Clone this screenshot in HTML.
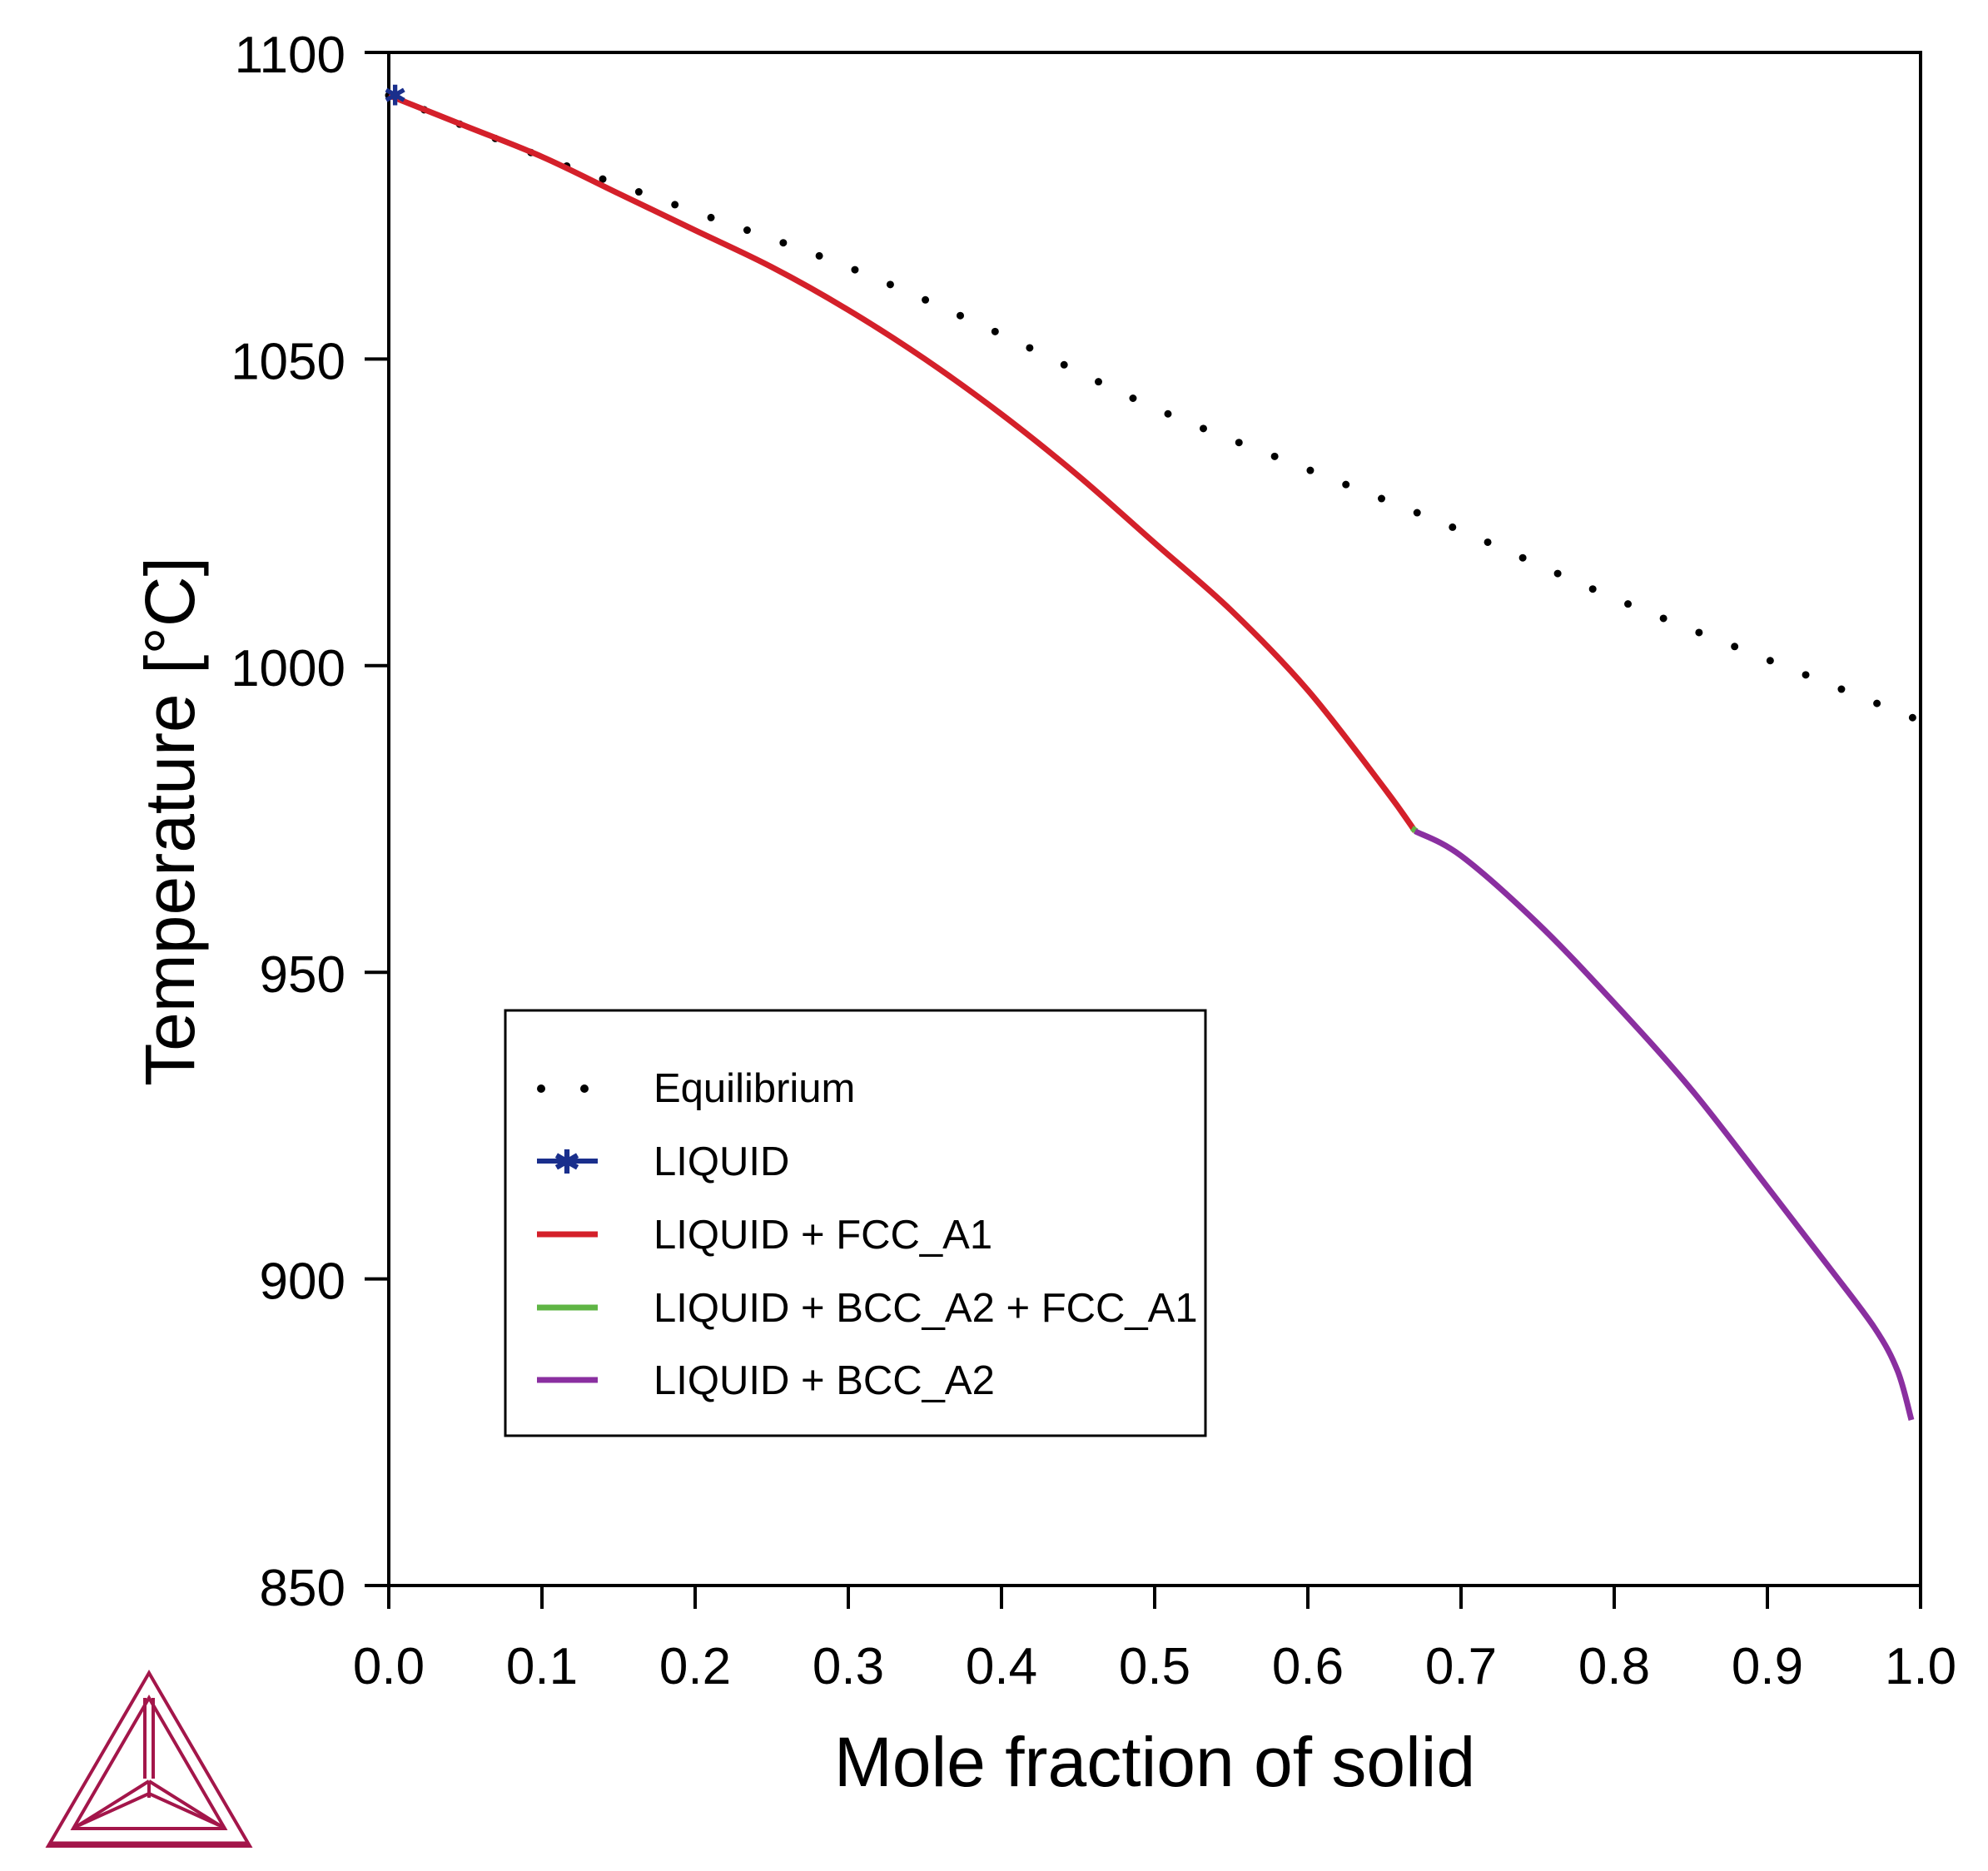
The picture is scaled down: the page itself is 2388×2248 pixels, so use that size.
<!DOCTYPE html>
<html><head><meta charset="utf-8"><style>
html,body{margin:0;padding:0;background:#fff;}
svg{display:block;font-family:"Liberation Sans",sans-serif;}
</style></head><body>
<svg id="chart" width="2388" height="2248" viewBox="0 0 2388 2248">
<g id="axes"></g>
<g id="series"></g>
<g id="legend">
 <rect x="607" y="1214" width="841" height="511" fill="#fff" stroke="#000" stroke-width="3"/>
 <g>
  <circle cx="650" cy="1308" r="5" fill="#000"/><circle cx="702" cy="1308" r="5" fill="#000"/>
  <text x="785" y="1324" font-size="49">Equilibrium</text></g>
 <g>
  <line x1="645" y1="1395" x2="718" y2="1395" stroke="#1a2f8c" stroke-width="6"/>
  <text x="681" y="1410" font-size="40" fill="#1a2f8c" text-anchor="middle">✱</text>
  <text x="785" y="1412" font-size="49">LIQUID</text></g>
 <g>
  <line x1="645" y1="1483" x2="718" y2="1483" stroke="#d4202a" stroke-width="7"/>
  <text x="785" y="1500" font-size="49">LIQUID + FCC_A1</text></g>
 <g>
  <line x1="645" y1="1571" x2="718" y2="1571" stroke="#5fb545" stroke-width="7"/>
  <text x="785" y="1588" font-size="49">LIQUID + BCC_A2 + FCC_A1</text></g>
 <g>
  <line x1="645" y1="1658" x2="718" y2="1658" stroke="#8a2fa0" stroke-width="7"/>
  <text x="785" y="1675" font-size="49">LIQUID + BCC_A2</text></g>
</g>
<g fill="none" stroke="#a3164a" stroke-width="4">
 <polygon points="179,2010 58,2218 300,2218"/>
 <polygon points="179,2040 88,2197 270,2197"/>
 <line x1="174" y1="2040" x2="174" y2="2137"/><line x1="184" y1="2040" x2="184" y2="2137"/>
 <line x1="179" y1="2140" x2="88" y2="2197"/><line x1="179" y1="2140" x2="270" y2="2197"/>
 <line x1="179" y1="2155" x2="95" y2="2193"/><line x1="179" y1="2155" x2="263" y2="2193"/>
 <line x1="179" y1="2140" x2="179" y2="2160"/>
 <line x1="60" y1="2216" x2="298" y2="2216" stroke-width="7"/>
</g>
</svg>
<script>
const xTicks=[0,0.1,0.2,0.3,0.4,0.5,0.6,0.7,0.8,0.9,1.0];
const xTickLabels=["0.0","0.1","0.2","0.3","0.4","0.5","0.6","0.7","0.8","0.9","1.0"];
const yTicks=[850,900,950,1000,1050,1100];
const yTickLabels=["850","900","950","1000","1050","1100"];
const eqX=[0,0.1,0.2,0.3,0.4,0.5,0.6,0.7,0.8,0.9,1.0];
const eqT=[1093,1083,1074,1065,1054,1042,1032,1022,1011,1001,991];
const fccX=[0,0.05,0.1,0.15,0.2,0.25,0.3,0.35,0.4,0.45,0.5,0.55,0.6,0.65,0.67];
const fccT=[1093,1088,1083,1077,1071,1065,1058,1050,1041,1031,1020,1009,996,980,973];
const bccFccX=[0.668,0.671];
const bccFccT=[973.5,973];
const bccX=[0.67,0.7,0.75,0.8,0.85,0.9,0.94,0.97,0.985,0.994];
const bccT=[973,969,958,945,931,915,902,892,885,877];
const liqX=[0.002];
const liqT=[1093];
const NS='http://www.w3.org/2000/svg';
const X0=467,X1=2307,Y0=1905,Y1=63;
function sx(v){return X0+(v-0)/(1-0)*(X1-X0);}
function sy(t){return Y0-(t-850)/(1100-850)*(Y0-Y1);}
function mk(tag,attrs,parent){const e=document.createElementNS(NS,tag);for(const k in attrs)e.setAttribute(k,attrs[k]);parent.appendChild(e);return e;}
function smooth(xs,ts){
 const p=xs.map((x,i)=>[sx(x),sy(ts[i])]);
 let d='M'+p[0][0].toFixed(1)+','+p[0][1].toFixed(1);
 for(let i=0;i<p.length-1;i++){
  const p0=p[Math.max(0,i-1)],p1=p[i],p2=p[i+1],p3=p[Math.min(p.length-1,i+2)];
  const c1=[p1[0]+(p2[0]-p0[0])/6,p1[1]+(p2[1]-p0[1])/6];
  const c2=[p2[0]-(p3[0]-p1[0])/6,p2[1]-(p3[1]-p1[1])/6];
  d+=' C'+c1[0].toFixed(1)+','+c1[1].toFixed(1)+' '+c2[0].toFixed(1)+','+c2[1].toFixed(1)+' '+p2[0].toFixed(1)+','+p2[1].toFixed(1);
 }
 return d;
}
const axes=document.getElementById('axes');
const frame=mk('rect',{x:X0,y:Y1,width:X1-X0,height:Y0-Y1,fill:'none',stroke:'#000','stroke-width':4},axes);


xTicks.forEach((v,i)=>{
 const l=mk('line',{x1:sx(v),y1:Y0,x2:sx(v),y2:Y0+28,stroke:'#000','stroke-width':4},axes);
 
 
 const t=mk('text',{x:sx(v),y:2023,'font-size':62,'text-anchor':'middle'},axes);
 t.textContent=xTickLabels[i];
 
 
});
yTicks.forEach((v,i)=>{
 const l=mk('line',{x1:X0-29,y1:sy(v),x2:X0,y2:sy(v),stroke:'#000','stroke-width':4},axes);
 
 
 const t=mk('text',{x:415,y:sy(v)+24,'font-size':62,'text-anchor':'end'},axes);
 t.textContent=yTickLabels[i];
 
 
});
const xt=mk('text',{x:1387,y:2146,'font-size':84,'text-anchor':'middle'},axes);
xt.textContent='Mole fraction of solid';


const yt=mk('text',{x:0,y:0,'font-size':84,'text-anchor':'middle',transform:'translate(233,987) rotate(-90)'},axes);
yt.textContent='Temperature [°C]';


const ser=document.getElementById('series');
const eq=mk('path',{d:smooth(eqX,eqT),fill:'none',stroke:'#000','stroke-width':9,'stroke-linecap':'round','stroke-dasharray':'0 46'},ser);


const fcc=mk('path',{d:smooth(fccX,fccT),fill:'none',stroke:'#d4202a','stroke-width':7},ser);


const bf=mk('path',{d:smooth(bccFccX,bccFccT),fill:'none',stroke:'#5fb545','stroke-width':7},ser);


const bcc=mk('path',{d:smooth(bccX,bccT),fill:'none',stroke:'#8a2fa0','stroke-width':7},ser);


liqX.forEach((x,i)=>{
 const m=mk('text',{x:sx(x)+4,y:sy(liqT[i])+12,'font-size':34,fill:'#1a2f8c','text-anchor':'middle'},ser);
 m.textContent='✱';
 
 
});
</script>
</body></html>
